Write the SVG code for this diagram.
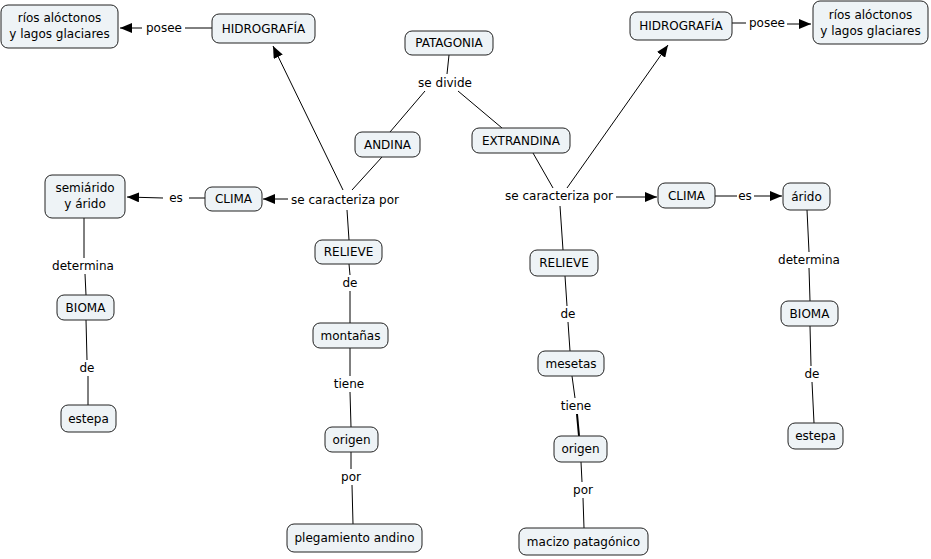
<svg xmlns="http://www.w3.org/2000/svg" width="931" height="559" viewBox="0 0 931 559">
<style>
.n rect{fill:#eef3f6;stroke:#222;stroke-width:1;}
text{font-family:"DejaVu Sans",Verdana,sans-serif;font-size:12px;fill:#000;text-anchor:middle;}
.c line{stroke:#000;stroke-width:1;}
.c line.a{marker-end:url(#ah);}
</style>
<defs>
<marker id="ah" markerWidth="12" markerHeight="10" refX="12" refY="5" orient="auto" markerUnits="userSpaceOnUse">
<path d="M0,0 L12,5 L0,10 Z" fill="#000"/>
</marker>
</defs>
<rect width="931" height="559" fill="#fff"/>
<g class="c">
<line x1="212" y1="28" x2="185" y2="28"/>
<line class="a" x1="142" y1="28" x2="120" y2="28"/>
<line x1="732" y1="23" x2="746" y2="23"/>
<line class="a" x1="787" y1="24" x2="811" y2="24"/>
<line x1="449" y1="55" x2="447" y2="74"/>
<line x1="425" y1="91" x2="390" y2="132"/>
<line x1="458" y1="91" x2="502" y2="128"/>
<line x1="382" y1="157" x2="352" y2="190"/>
<line class="a" x1="343" y1="190" x2="273" y2="46"/>
<line class="a" x1="288" y1="199" x2="263" y2="199"/>
<line x1="347" y1="210" x2="349" y2="240"/>
<line x1="205" y1="198" x2="189" y2="198"/>
<line class="a" x1="163" y1="198" x2="127" y2="197"/>
<line x1="84" y1="218" x2="84" y2="258"/>
<line x1="85" y1="274" x2="86" y2="295"/>
<line x1="86" y1="320" x2="87" y2="360"/>
<line x1="88" y1="376" x2="88" y2="405"/>
<line x1="349" y1="264" x2="350" y2="275"/>
<line x1="350" y1="291" x2="350" y2="323"/>
<line x1="350" y1="348" x2="350" y2="376"/>
<line x1="350" y1="392" x2="351" y2="427"/>
<line x1="351" y1="452" x2="351" y2="469"/>
<line x1="352" y1="485" x2="353" y2="524"/>
<line x1="533" y1="153" x2="553" y2="188"/>
<line class="a" x1="567" y1="188" x2="668" y2="45"/>
<line class="a" x1="616" y1="197" x2="657" y2="197"/>
<line x1="560" y1="206" x2="563" y2="250"/>
<line x1="715" y1="196" x2="737" y2="196"/>
<line class="a" x1="754" y1="196" x2="782" y2="196"/>
<line x1="807" y1="210" x2="809" y2="252"/>
<line x1="809" y1="268" x2="810" y2="301"/>
<line x1="810" y1="326" x2="811" y2="366"/>
<line x1="812" y1="382" x2="814" y2="423"/>
<line x1="565" y1="276" x2="567" y2="306"/>
<line x1="568" y1="322" x2="570" y2="351"/>
<line x1="572" y1="376" x2="575" y2="398"/>
<line x1="577" y1="414" x2="579" y2="436" style="stroke-width:2"/>
<line x1="581" y1="462" x2="582" y2="482"/>
<line x1="583" y1="498" x2="584" y2="528"/>
</g>
<g id="labels">
<text x="164" y="32">posee</text>
<text x="767" y="27">posee</text>
<text x="445" y="87">se divide</text>
<text x="345" y="204">se caracteriza por</text>
<text x="559" y="200">se caracteriza por</text>
<text x="176" y="202">es</text>
<text x="745" y="200">es</text>
<text x="83" y="270">determina</text>
<text x="809" y="264">determina</text>
<text x="87" y="372">de</text>
<text x="812" y="378">de</text>
<text x="350" y="287">de</text>
<text x="568" y="318">de</text>
<text x="349" y="388">tiene</text>
<text x="576" y="410">tiene</text>
<text x="351" y="481">por</text>
<text x="583" y="494">por</text>
</g>
<g id="rios-left" class="n"><rect x="1" y="5" width="117" height="43" rx="7"/><text x="59.5" y="22">ríos alóctonos</text><text x="59.5" y="38">y lagos glaciares</text></g>
<g id="hidro-left" class="n"><rect x="212" y="14" width="103" height="29" rx="7"/><text x="263.5" y="33">HIDROGRAFÍA</text></g>
<g id="patagonia" class="n"><rect x="405" y="31" width="88" height="24" rx="7"/><text x="449" y="47">PATAGONIA</text></g>
<g id="andina" class="n"><rect x="355" y="132" width="65" height="25" rx="7"/><text x="387.5" y="149">ANDINA</text></g>
<g id="extrandina" class="n"><rect x="472" y="128" width="98" height="25" rx="7"/><text x="521" y="145">EXTRANDINA</text></g>
<g id="hidro-right" class="n"><rect x="630" y="12" width="102" height="28" rx="7"/><text x="681" y="30">HIDROGRAFÍA</text></g>
<g id="rios-right" class="n"><rect x="813" y="1" width="115" height="43" rx="7"/><text x="870.5" y="19">ríos alóctonos</text><text x="870.5" y="35">y lagos glaciares</text></g>
<g id="semiarido" class="n"><rect x="45" y="175" width="80" height="43" rx="7"/><text x="85" y="192">semiárido</text><text x="85" y="208">y árido</text></g>
<g id="clima-left" class="n"><rect x="205" y="187" width="57" height="24" rx="7"/><text x="233.5" y="203">CLIMA</text></g>
<g id="relieve-left" class="n"><rect x="315" y="240" width="67" height="24" rx="7"/><text x="348.5" y="256">RELIEVE</text></g>
<g id="montanas" class="n"><rect x="313" y="323" width="75" height="25" rx="7"/><text x="350.5" y="340">montañas</text></g>
<g id="origen-left" class="n"><rect x="325" y="427" width="53" height="25" rx="7"/><text x="351.5" y="444">origen</text></g>
<g id="plegamiento" class="n"><rect x="287" y="524" width="135" height="28" rx="7"/><text x="354.5" y="542">plegamiento andino</text></g>
<g id="bioma-left" class="n"><rect x="57" y="295" width="57" height="25" rx="7"/><text x="85.5" y="312">BIOMA</text></g>
<g id="estepa-left" class="n"><rect x="61" y="405" width="55" height="27" rx="7"/><text x="88.5" y="423">estepa</text></g>
<g id="relieve-right" class="n"><rect x="530" y="250" width="68" height="26" rx="7"/><text x="564" y="267">RELIEVE</text></g>
<g id="mesetas" class="n"><rect x="538" y="351" width="66" height="25" rx="7"/><text x="571" y="368">mesetas</text></g>
<g id="origen-right" class="n"><rect x="554" y="436" width="53" height="26" rx="7"/><text x="580.5" y="453">origen</text></g>
<g id="macizo" class="n"><rect x="519" y="528" width="129" height="27" rx="7"/><text x="583.5" y="546">macizo patagónico</text></g>
<g id="clima-right" class="n"><rect x="658" y="183" width="57" height="25" rx="7"/><text x="686.5" y="200">CLIMA</text></g>
<g id="arido" class="n"><rect x="783" y="183" width="47" height="27" rx="7"/><text x="806.5" y="201">árido</text></g>
<g id="bioma-right" class="n"><rect x="781" y="301" width="57" height="25" rx="7"/><text x="809.5" y="318">BIOMA</text></g>
<g id="estepa-right" class="n"><rect x="788" y="423" width="55" height="26" rx="7"/><text x="815.5" y="440">estepa</text></g>
</svg>
